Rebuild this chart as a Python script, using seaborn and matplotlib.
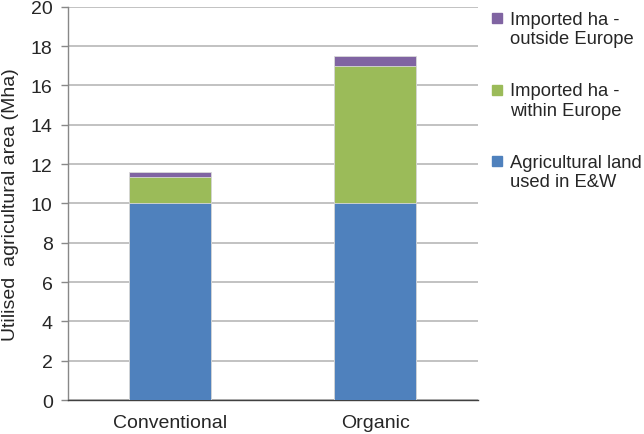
import matplotlib
matplotlib.use("Agg")
import matplotlib.pyplot as plt
import seaborn as sns
import pandas as pd
import numpy as np
from matplotlib.lines import Line2D
from matplotlib.legend_handler import HandlerLine2D

categories = ["Conventional", "Organic"]
land_ew = [10.0, 10.0]
imported_within = [1.35, 7.0]
imported_outside = [0.23, 0.5]
series_labels = ["Imported ha -\noutside Europe", "Imported ha -\nwithin Europe", "Agricultural land\nused in E&W"]
colors = {"outside": "#8064A2", "within": "#9BBB59", "ew": "#4F81BD"}

sns.set_theme(style="white")
plt.rcParams['font.family'] = ['Liberation Sans', 'DejaVu Sans']

fig = plt.figure(figsize=(6.44, 4.35), dpi=100)
ax = fig.add_axes([0.1056, 0.078, 0.636, 0.904])

df = pd.DataFrame({
    "cat": categories,
    "ew": land_ew,
    "within": np.array(land_ew) + np.array(imported_within),
    "outside": np.array(land_ew) + np.array(imported_within) + np.array(imported_outside),
})

for col in ["outside", "within", "ew"]:
    sns.barplot(data=df, x="cat", y=col, color=colors[col], width=0.4,
                saturation=1, ax=ax, zorder=3, edgecolor="#d9d9d9", linewidth=0.6)

ax.set_ylim(0, 20)
ax.set_xlim(-0.5, 1.5)
ax.set_yticks(np.arange(0, 21, 2))
ax.yaxis.grid(True, color="#b8b8b8", linewidth=1.2, zorder=0)
ax.set_axisbelow(True)
for s in ["top", "right"]:
    ax.spines[s].set_visible(False)
ax.spines["left"].set_color("#888888")
ax.spines["bottom"].set_color("#404040")
ax.spines["left"].set_linewidth(1.0)
ax.spines["bottom"].set_linewidth(1.0)

ax.set_xticks([0, 1])
ax.set_xticklabels(categories, fontsize=14)
ax.set_xticks([-0.5, 0.5, 1.5], minor=True)
ax.tick_params(axis="x", which="major", length=0, pad=10)
ax.tick_params(axis="x", which="minor", length=5, width=1, color="#404040", direction="out")
ax.tick_params(axis="y", length=5, width=1, color="#888888", direction="out", labelsize=14, pad=6, left=True)
ax.set_xlabel("")
ax.set_ylabel("Utilised  agricultural area (Mha)", fontsize=14, labelpad=8.5)


class UpHandler(HandlerLine2D):
    def create_artists(self, legend, orig_handle, xdescent, ydescent, width, height, fontsize, trans):
        arts = super().create_artists(legend, orig_handle, xdescent, ydescent, width, height, fontsize, trans)
        for a in arts:
            a.set_ydata(np.asarray(a.get_ydata(), dtype=float) + 0.6 * fontsize)
        return arts


handles = [Line2D([], [], marker="s", linestyle="none", markersize=7.5, color=colors[k]) for k in ["outside", "within", "ew"]]
fig.legend(handles, series_labels, loc="upper left", bbox_to_anchor=(0.746, 0.99), frameon=False,
           fontsize=13.2, handletextpad=0.2, handlelength=1.0, labelspacing=1.9, borderaxespad=0,
           handler_map={Line2D: UpHandler()})

fig.savefig("out.png", dpi=100)
